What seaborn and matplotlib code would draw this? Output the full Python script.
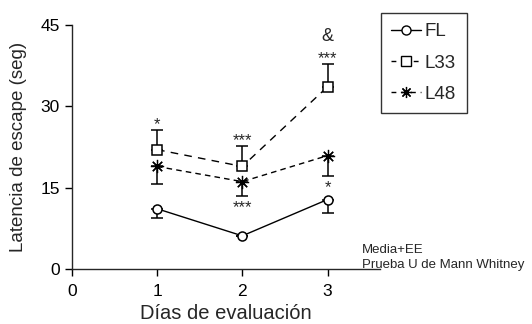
import matplotlib
matplotlib.use("Agg")
import matplotlib.pyplot as plt
import seaborn as sns
import pandas as pd
from matplotlib.lines import Line2D

days = [1, 2, 3]
fl = [11.1, 6.1, 12.8]
fl_err = [1.7, 0.0, 2.4]
l33 = [22.0, 18.9, 33.6]
l33_err = [3.7, 3.8, 4.2]
l48 = [18.9, 16.1, 20.9]
l48_err = [3.3, 2.7, 3.7]
series_names = ["FL", "L33", "L48"]
x_ticks = [0, 1, 2, 3]
y_ticks = [0, 15, 30, 45]

sns.set_style("ticks")
plt.rcParams['font.family'] = ['Liberation Sans', 'DejaVu Sans']

df = pd.DataFrame({
    "dia": days * 3,
    "valor": fl + l33 + l48,
    "grupo": [s for s in series_names for _ in days],
})

fig = plt.figure(figsize=(5.32, 3.24), dpi=100)
ax = fig.add_axes([0.135, 0.170, 0.580, 0.753])

styles = {
    "FL": dict(marker="o", dashes=None, ms=6.5, mew=1.1),
    "L33": dict(marker="s", dashes=(5.5, 4.5), ms=6.5, mew=1.1),
    "L48": dict(marker=(8, 2, 0), dashes=(4, 3), ms=9.5, mew=0.9),
}

for name, err, sign in [("FL", fl_err, -1), ("L33", l33_err, 1), ("L48", l48_err, -1)]:
    sub = df[df.grupo == name]
    yerr = [err, [0, 0, 0]] if sign < 0 else [[0, 0, 0], err]
    ax.errorbar(sub.dia, sub.valor, yerr=yerr, fmt="none", ecolor="black",
                elinewidth=1.1, capsize=4, capthick=1.1, zorder=2)
    st = styles[name]
    kw = {}
    if st["dashes"] is not None:
        kw["dashes"] = st["dashes"]
    sns.lineplot(data=sub, x="dia", y="valor", ax=ax, color="black", lw=1.0,
                 marker=st["marker"], markersize=st["ms"],
                 markerfacecolor="white", markeredgecolor="black",
                 markeredgewidth=st["mew"], zorder=3, **kw)

ax.set_xlim(0, 3.62)
ax.set_ylim(0, 45)
ax.set_xticks(x_ticks)
ax.set_yticks(y_ticks)
for s in ["top", "right"]:
    ax.spines[s].set_visible(False)
ax.spines["left"].set_linewidth(1.0)
ax.spines["bottom"].set_linewidth(1.0)
ax.tick_params(axis="both", direction="out", length=5, width=1.0,
               labelsize=12.5, colors="black")
ax.tick_params(axis="x", pad=6)
ax.set_xlabel("Días de evaluación", fontsize=14.5, labelpad=3.5)
ax.set_ylabel("Latencia de escape (seg)", fontsize=13.5, labelpad=10)

# significance marks
sig_fs = 12
ax.text(1, 26.6, "*", ha="center", va="center", fontsize=sig_fs)
ax.text(2, 23.7, "***", ha="center", va="center", fontsize=sig_fs)
ax.text(2, 11.3, "***", ha="center", va="center", fontsize=sig_fs)
ax.text(3, 38.7, "***", ha="center", va="center", fontsize=sig_fs)
ax.text(3, 42.8, "&", ha="center", va="center", fontsize=13)
ax.text(3, 15.0, "*", ha="center", va="center", fontsize=sig_fs)

fig.text(0.681, 0.229, "Media+EE", fontsize=9.5, ha="left", va="center")
fig.text(0.681, 0.182, "Prueba U de Mann Whitney", fontsize=9.5, ha="left", va="center")

handles = [
    Line2D([], [], color="black", lw=1.0, marker="o", ms=6.5, mfc="white", mec="black"),
    Line2D([], [], color="black", lw=1.0, marker="s", ms=6.5, mfc="white", mec="black", dashes=(3.5, 4.5)),
    Line2D([], [], color="black", lw=1.0, marker=(8, 2, 0), ms=8, mfc="white", mec="black", mew=0.9, dashes=(3.5, 3.5)),
]
leg = fig.legend(handles, series_names, loc="upper left",
                 bbox_to_anchor=(0.716, 0.960), frameon=True, fancybox=False,
                 edgecolor="black", fontsize=13.5, handlelength=1.6,
                 handletextpad=0.2, labelspacing=0.75, borderpad=0.55,
                 borderaxespad=0)
leg.get_frame().set_linewidth(1.0)

fig.savefig("out.png", dpi=100)
